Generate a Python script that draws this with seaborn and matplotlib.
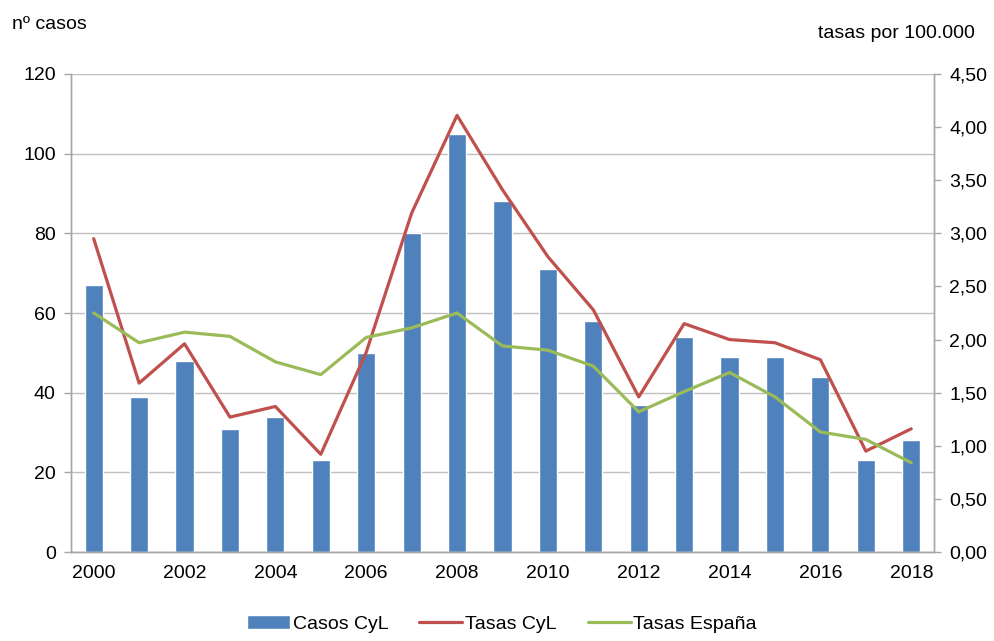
import numpy as np
import pandas as pd
import matplotlib
matplotlib.use("Agg")
import matplotlib.pyplot as plt
from matplotlib.ticker import FixedLocator, FuncFormatter
import seaborn as sns

sns.set_style("white")
plt.rcParams['font.family'] = ['Liberation Sans', 'DejaVu Sans']
plt.rcParams['text.color'] = 'black'
plt.rcParams['xtick.labelcolor'] = 'black'
plt.rcParams['ytick.labelcolor'] = 'black'

# Data
years = [str(y) for y in range(2000, 2019)]
casos_cyl = [67, 39, 48, 31, 34, 23, 50, 80, 105, 88, 71, 58, 37, 54, 49, 49, 44, 23, 28]
tasas_cyl = [2.95, 1.59, 1.96, 1.27, 1.37, 0.92, 1.88, 3.19, 4.11, 3.41, 2.78, 2.28,
             1.46, 2.15, 2.00, 1.97, 1.81, 0.95, 1.16]
tasas_esp = [2.25, 1.97, 2.07, 2.03, 1.79, 1.67, 2.02, 2.11, 2.25, 1.94, 1.90, 1.75,
             1.32, 1.51, 1.69, 1.46, 1.13, 1.06, 0.84]

df = pd.DataFrame({"year": years, "casos": casos_cyl,
                   "tasa_cyl": tasas_cyl, "tasa_esp": tasas_esp})
df["pos"] = np.arange(len(df))

blue, red, green = "#4F81BD", "#C0504D", "#9BBB59"
grey = "#A6A6A6"

fig = plt.figure(figsize=(9.94, 6.41), dpi=100)
ax = fig.add_axes([0.0714, 0.1388, 0.8682, 0.7458])

sns.barplot(data=df, x="year", y="casos", color=blue, width=0.4, saturation=1,
            ax=ax, label="Casos CyL", zorder=2)
if ax.get_legend() is not None:
    ax.get_legend().remove()
ax.set_ylim(0, 120)
ax.set_xlim(-0.5, len(years) - 0.5)
ax.set_yticks(range(0, 121, 20))
ax.yaxis.grid(True, color="#BFBFBF", linewidth=1, zorder=0)
ax.set_axisbelow(True)

ax2 = ax.twinx()
sns.lineplot(data=df, x="pos", y="tasa_cyl", color=red, linewidth=2.3, ax=ax2,
             label="Tasas CyL", legend=False)
sns.lineplot(data=df, x="pos", y="tasa_esp", color=green, linewidth=2.3, ax=ax2,
             label="Tasas España", legend=False)
ax2.set_ylim(0, 4.5)
ax2.set_xlim(-0.5, len(years) - 0.5)
ax2.set_yticks(np.arange(0, 4.51, 0.5))
ax2.yaxis.set_major_formatter(FuncFormatter(lambda v, p: f"{v:.2f}".replace(".", ",")))

# x ticks: labels every other year, tick marks between categories
ax.xaxis.set_major_locator(FixedLocator(range(0, len(years), 2)))
ax.set_xticklabels(years[::2])
ax.xaxis.set_minor_locator(FixedLocator(np.arange(-0.5, len(years), 1)))
ax.tick_params(axis="x", which="major", length=0, pad=9, labelsize=14)
ax.tick_params(axis="x", which="minor", length=5, color=grey, width=1, direction="out")
ax.tick_params(axis="y", length=5, color=grey, width=1, direction="out", labelsize=14, pad=6)
ax2.tick_params(axis="y", length=5, color=grey, width=1, direction="out", labelsize=14, pad=6)
ax.set_xlabel("")
ax.set_ylabel("")
ax2.set_xlabel("")
ax2.set_ylabel("")

for a in (ax, ax2):
    a.spines["top"].set_visible(False)
    for s in ("left", "right", "bottom"):
        a.spines[s].set_color(grey)
        a.spines[s].set_linewidth(1)

fig.text(0.012, 0.962, "nº casos", fontsize=14, va="center", ha="left")
fig.text(0.981, 0.948, "tasas por 100.000", fontsize=14, va="center", ha="right")

h1, l1 = ax.get_legend_handles_labels()
h2, l2 = ax2.get_legend_handles_labels()
fig.legend(h1 + h2, l1 + l2, loc="upper center", bbox_to_anchor=(0.505, 0.058),
           ncol=3, frameon=False, fontsize=14, handlelength=2.2,
           handletextpad=0.15, columnspacing=1.6, borderaxespad=0.2)

fig.savefig("out.png", dpi=100)
